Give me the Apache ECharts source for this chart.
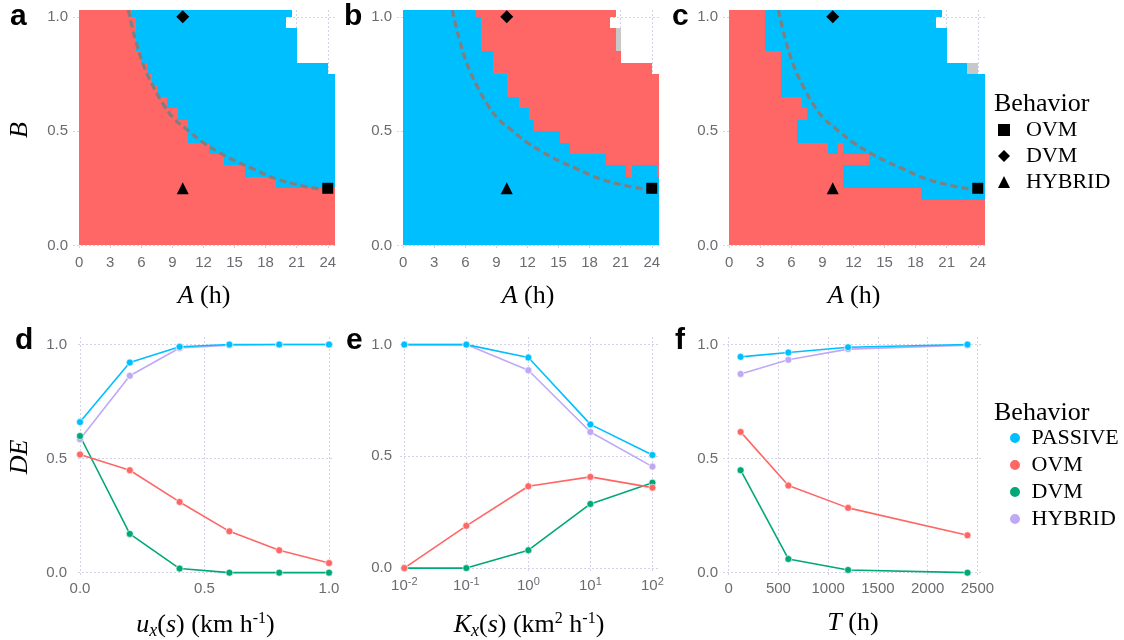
<!DOCTYPE html>
<html><head><meta charset="utf-8">
<script src="https://cdn.jsdelivr.net/npm/echarts@6/dist/echarts.min.js"></script>
<style>html,body{margin:0;padding:0;background:#fff}#c{width:1124px;height:640px}</style>
</head><body><div id="c"></div>
<script>
// ---------- data ----------
const hourTicks = [0, 3, 6, 9, 12, 15, 18, 21, 24];
const fracTicks = [0, 0.5, 1];
const uxTicks = [0, 0.5, 1];
const kxTicks = [0.01, 0.1, 1, 10, 100];
const kxTickExponents = ['-2', '-1', '0', '1', '2'];
const tTicks = [0, 500, 1000, 1500, 2000, 2500];

// heat-map cells: [A0, A1, B0, B1]
const computedArea = [
  [0, 20, 0, 1.03], [20, 20.5, 0, 0.95], [20, 20.5, 1.0, 1.03],
  [20.5, 21, 0, 0.95], [21, 24, 0, 0.80], [24, 24.7, 0, 0.75]
];
const ovmCellsA = [
  [-0.1, 5.0, 0, 1.03], [5.0, 5.5, 0, 1.0], [5.5, 6.0, 0, 0.85], [6.0, 6.5, 0, 0.80],
  [6.5, 7.0, 0, 0.75], [7.0, 7.5, 0, 0.70], [7.5, 8.5, 0, 0.65], [8.5, 9.5, 0, 0.60],
  [9.5, 10.5, 0, 0.55], [10.5, 12.5, 0, 0.45], [12.5, 14, 0, 0.40], [14, 16, 0, 0.35],
  [16, 19, 0, 0.30], [19, 24.7, 0, 0.25]
];
const ovmCellsB = [
  [7.0, 7.5, 1.0, 1.03], [7.5, 8.67, 0.85, 1.03], [8.67, 10.0, 0.75, 1.03],
  [10.0, 11.2, 0.65, 1.03], [11.2, 12.15, 0.60, 1.03], [12.15, 12.6, 0.55, 1.03],
  [12.6, 15.1, 0.50, 1.03], [15.1, 16.1, 0.45, 1.03], [16.1, 19.6, 0.40, 1.03],
  [19.6, 21.5, 0.35, 1.03], [21.5, 22.06, 0.30, 1.03], [22.06, 24.55, 0.35, 1.03],
  [24.55, 24.7, 0.30, 1.03]
];
const ovmCellsC = [
  [0, 3.5, 0, 1.03], [3.5, 5.0, 0, 0.85], [5.0, 6.5, 0, 0.65],
  [6.5, 7.0, 0, 0.45], [6.5, 7.0, 0.55, 0.65], [7.0, 7.5, 0, 0.45], [7.0, 7.5, 0.55, 0.60],
  [7.5, 9.5, 0, 0.45], [9.5, 10.5, 0, 0.40], [10.5, 11.0, 0, 0.45],
  [11.0, 13.5, 0, 0.25], [11.0, 13.5, 0.35, 0.40], [13.5, 18.5, 0, 0.25], [18.5, 24.7, 0, 0.20]
];
const otherCellsB = [[20.5, 21.0, 0.85, 0.95]];
const otherCellsC = [[23.0, 24.0, 0.75, 0.80]];

const boundaryCurve = [
  [4.74, 1.03], [5.38, 0.908], [6.19, 0.791], [7.15, 0.695], [8.11, 0.618], [9.08, 0.558],
  [10.37, 0.508], [11.98, 0.450], [13.59, 0.405], [15.2, 0.367], [16.5, 0.341],
  [18.98, 0.292], [21.65, 0.260], [24, 0.241]
];
const ovmPoint = [24, 0.25];
const dvmPoint = [10, 1.0];
const hybridPoint = [10, 0.25];

const uxValues = [0, 0.2, 0.4, 0.6, 0.8, 1.0];
const dPassive = [0.66, 0.921, 0.99, 1.0, 1.0, 1.0];
const dOvm = [0.518, 0.449, 0.31, 0.181, 0.098, 0.042];
const dDvm = [0.599, 0.17, 0.018, 0, 0, 0];
const dHybrid = [0.585, 0.863, 0.985, 0.997, 1.0, 1.0];

const kxValues = [0.01, 0.1, 1, 10, 100];
const ePassive = [1.0, 1.0, 0.942, 0.643, 0.506];
const eOvm = [0.0, 0.189, 0.366, 0.408, 0.36];
const eDvm = [0, 0, 0.08, 0.287, 0.382];
const eHybrid = [1.0, 1.0, 0.885, 0.609, 0.454];

const tValues = [120, 600, 1200, 2400];
const fPassive = [0.946, 0.965, 0.988, 1.0];
const fOvm = [0.617, 0.382, 0.284, 0.164];
const fDvm = [0.449, 0.06, 0.012, 0.0];
const fHybrid = [0.871, 0.933, 0.98, 0.997];

// ---------- styling ----------
const C = { PASSIVE: '#00BFFF', OVM: '#FF6666', DVM: '#00A878', HYBRID: '#BFA9F6', NA: '#C8C8C8' };
const SANS = 'Liberation Sans, Arial, sans-serif';
const SERIF = 'Liberation Serif, Times New Roman, serif';
const tickColor = '#6d6a70';
const gridColor = '#d4d2e8';

function clipTo(rects, area) {
  const out = [];
  rects.forEach(r => area.forEach(v => {
    const a0 = Math.max(r[0], v[0]), a1 = Math.min(r[1], v[1]);
    const b0 = Math.max(r[2], v[2]), b1 = Math.min(r[3], v[3]);
    if (a1 > a0 && b1 > b0) out.push([a0, a1, b0, b1]);
  }));
  return out;
}

function tileSeries(rects, color, gi) {
  return {
    type: 'custom', xAxisIndex: gi, yAxisIndex: gi, silent: true, z: 1,
    data: rects, encode: { x: [0, 1], y: [2, 3] },
    renderItem: function (params, api) {
      const p0 = api.coord([api.value(0), api.value(3)]);
      const p1 = api.coord([api.value(1), api.value(2)]);
      const x0 = Math.round(p0[0]), y0 = Math.round(p0[1]);
      const x1 = Math.round(p1[0]), y1 = Math.round(p1[1]);
      return { type: 'rect', shape: { x: x0, y: y0, width: x1 - x0, height: y1 - y0 }, style: { fill: color } };
    }
  };
}

const nameRich = {
  i: { fontFamily: SERIF, fontStyle: 'italic', fontSize: 26, color: '#000' },
  sub: { fontFamily: SERIF, fontStyle: 'italic', fontSize: 18, color: '#000', padding: [12, 0, 0, 0] },
  sup: { fontFamily: SERIF, fontSize: 16, color: '#000', padding: [0, 0, 12, 0] }
};
const nameStyle = { fontFamily: SERIF, fontSize: 26, color: '#000', rich: nameRich };

function xAx(gi, o) {
  return Object.assign({
    gridIndex: gi, type: 'value', nameLocation: 'middle', nameGap: 33, nameTextStyle: nameStyle,
    axisLine: { show: false },
    axisTick: { show: false, customValues: o.ticks },
    axisLabel: { customValues: o.ticks, color: tickColor, fontSize: 15, fontFamily: SANS, margin: o.margin || 5,
      formatter: o.fmt || (v => String(v)), rich: o.rich },
    splitLine: { show: true, lineStyle: { color: gridColor, type: [2, 2], width: 1 } }
  }, o.extra);
}
function yAx(gi, o) {
  return Object.assign({
    gridIndex: gi, type: 'value', nameLocation: 'middle', nameTextStyle: nameStyle,
    axisLine: { show: false },
    axisTick: { show: false, customValues: fracTicks },
    axisLabel: { customValues: fracTicks, color: tickColor, fontSize: 15, fontFamily: SANS, margin: o.margin || 5,
      formatter: v => v.toFixed(1) },
    splitLine: { show: true, lineStyle: { color: gridColor, type: [2, 2], width: 1 } }
  }, o.extra);
}

const grids = [
  { left: 73, top: 10, width: 262, height: 240 },
  { left: 397, top: 10, width: 262, height: 240 },
  { left: 723, top: 10, width: 262, height: 240 },
  { left: 78, top: 337, width: 255, height: 240 },
  { left: 400, top: 337, width: 258, height: 236 },
  { left: 723, top: 337, width: 260, height: 240 }
].map(g => Object.assign({ outerBoundsMode: 'none', containLabel: false }, g));

const supRich = {
  b: { color: tickColor, fontSize: 15, fontFamily: SANS },
  s: { color: tickColor, fontSize: 11, fontFamily: SANS, padding: [0, 0, 9, 0] }
};

const xAxes = [
  xAx(0, { ticks: hourTicks, extra: { min: -0.6, max: 24.7, name: '{i|A} (h)' } }),
  xAx(1, { ticks: hourTicks, extra: { min: -0.6, max: 24.7, name: '{i|A} (h)' } }),
  xAx(2, { ticks: hourTicks, extra: { min: -0.6, max: 24.7, name: '{i|A} (h)' } }),
  xAx(3, { ticks: uxTicks, margin: 4, fmt: v => v.toFixed(1),
    extra: { min: -0.008, max: 1.016, name: '{i|u}{sub|x}({i|s}) (km h{sup|-1})' } }),
  xAx(4, { ticks: kxTicks, margin: 3, rich: supRich,
    fmt: v => '{b|10}{s|' + kxTickExponents[Math.round(Math.log10(v)) + 2] + '}',
    extra: { type: 'log', logBase: 10, min: 0.00853, max: 123, nameGap: 37,
      name: '{i|K}{sub|x}({i|s}) (km{sup|2} h{sup|-1})' } }),
  xAx(5, { ticks: tTicks, margin: 4, extra: { min: -57, max: 2556, name: '{i|T} (h)' } })
];
const yAxes = [
  yAx(0, { extra: { min: -0.02, max: 1.03, name: '{i|B}', nameGap: 40 } }),
  yAx(1, { extra: { min: -0.02, max: 1.03 } }),
  yAx(2, { extra: { min: -0.02, max: 1.03 } }),
  yAx(3, { margin: 11, extra: { min: -0.019, max: 1.033, name: '{i|DE}', nameGap: 45 } }),
  yAx(4, { margin: 8, extra: { min: -0.022, max: 1.034 } }),
  yAx(5, { margin: 5, extra: { min: -0.019, max: 1.033 } })
];

const series = [];
const ovmSets = [ovmCellsA, ovmCellsB, ovmCellsC];
const naSets = [[], otherCellsB, otherCellsC];
const mk = { itemStyle: { color: '#000', opacity: 1 }, emphasis: { disabled: true } };
for (let g = 0; g < 3; g++) {
  series.push(tileSeries(computedArea, C.PASSIVE, g));
  series.push(tileSeries(clipTo(ovmSets[g], computedArea), C.OVM, g));
  if (naSets[g].length) series.push(tileSeries(naSets[g], C.NA, g));
  series.push({ type: 'line', xAxisIndex: g, yAxisIndex: g, data: boundaryCurve, smooth: 0.4, symbol: 'none', silent: true, z: 3,
    lineStyle: { color: '#7f7f7f', width: 3.2, type: [7, 4] } });
  series.push(Object.assign({ name: 'OVM ', type: 'scatter', xAxisIndex: g, yAxisIndex: g, data: [ovmPoint], symbol: 'rect', symbolSize: 11, z: 4 }, mk));
  series.push(Object.assign({ name: 'DVM ', type: 'scatter', xAxisIndex: g, yAxisIndex: g, data: [dvmPoint], symbol: 'diamond', symbolSize: 13, z: 4 }, mk));
  series.push(Object.assign({ name: 'HYBRID ', type: 'scatter', xAxisIndex: g, yAxisIndex: g, data: [hybridPoint], symbol: 'triangle', symbolSize: 12, z: 4 }, mk));
}
const zip = (xs, ys) => xs.map((x, i) => [x, ys[i]]);
const lineSets = [
  [uxValues, { HYBRID: dHybrid, DVM: dDvm, OVM: dOvm, PASSIVE: dPassive }],
  [kxValues, { HYBRID: eHybrid, DVM: eDvm, OVM: eOvm, PASSIVE: ePassive }],
  [tValues, { HYBRID: fHybrid, DVM: fDvm, OVM: fOvm, PASSIVE: fPassive }]
];
lineSets.forEach((ls, k) => {
  ['HYBRID', 'DVM', 'OVM', 'PASSIVE'].forEach(nm => {
    series.push({ name: nm, type: 'line', xAxisIndex: 3 + k, yAxisIndex: 3 + k, data: zip(ls[0], ls[1][nm]),
      symbol: 'circle', symbolSize: 7, showSymbol: true, z: 3,
      lineStyle: { color: C[nm], width: 1.6 }, itemStyle: { color: C[nm], borderColor: '#fff', borderWidth: 0.6 } });
  });
});

const panelLetter = (t, left, top) => ({ text: t, left, top, padding: 0,
  textStyle: { fontFamily: SANS, fontWeight: 'bold', fontSize: 30, color: '#000' } });
const legendTitle = (top) => ({ text: 'Behavior', left: 994, top, padding: 0,
  textStyle: { fontFamily: SERIF, fontWeight: 'normal', fontSize: 26, color: '#000' } });

const option = {
  animation: false,
  backgroundColor: '#fff',
  title: [
    panelLetter('a', 10, 2), panelLetter('b', 344, 2), panelLetter('c', 672, 2),
    panelLetter('d', 15, 326), panelLetter('e', 346, 326), panelLetter('f', 675, 326),
    legendTitle(91), legendTitle(400)
  ],
  legend: [
    { orient: 'vertical', left: 998, top: 119, padding: 0, itemWidth: 12, itemHeight: 12, itemGap: 4,
      selectedMode: false, formatter: n => '  ' + n.trim(),
      textStyle: { fontFamily: SERIF, fontSize: 22, color: '#000' },
      data: [{ name: 'OVM ', icon: 'rect' }, { name: 'DVM ', icon: 'diamond' }, { name: 'HYBRID ', icon: 'triangle' }] },
    { orient: 'vertical', left: 1008, top: 427, padding: 0, itemWidth: 12, itemHeight: 12, itemGap: 5,
      selectedMode: false, formatter: n => ' ' + n,
      textStyle: { fontFamily: SERIF, fontSize: 22, color: '#000' },
      data: ['PASSIVE', 'OVM', 'DVM', 'HYBRID'].map(n => ({ name: n, icon: 'circle' })) }
  ],
  grid: grids,
  xAxis: xAxes,
  yAxis: yAxes,
  series
};
const chart = echarts.init(document.getElementById('c'), null, { renderer: 'canvas' });
chart.setOption(option);
</script>
</body></html>
